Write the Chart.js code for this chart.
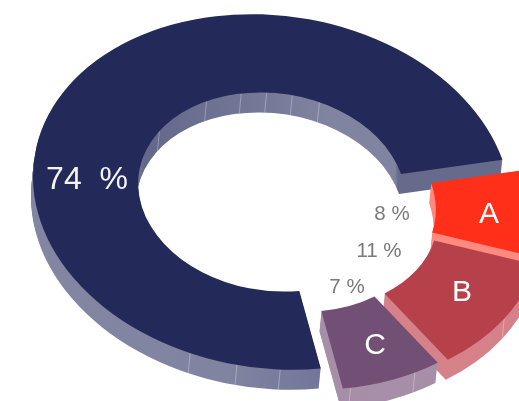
<!DOCTYPE html>
<html><head><meta charset="utf-8">
<style>html,body{margin:0;padding:0;background:#fff}canvas{display:block}</style>
<script src="https://cdn.jsdelivr.net/npm/chart.js@4"></script>
</head><body><canvas id="c" width="519" height="401"></canvas>
<script>
const categories=['','A','B','C'];
const values=[74,8,11,7];
const percentLabels=['74  %','8 %','11 %','7 %'];
const topColors=['#232a5a','#ff2f19','#b7414b','#724f75'];
const wallColors=['#7c809d','#ff8a80','#d6828a','#a78fa9'];
const explode=[[0,0],[30,9],[32,17],[22,20]];
const outerSeams=[[87.3,97.7,109.3],[],[32.4],[58.9,75.6]];
const innerSeams=[[212,240,256,267,278,290],[],[],[]];
const C0=[272,192], M=[239,-3,17.6,177], DEPTH=20, LEAN=-2;

function shadeNavyWall(ctx){
 ctx.save();ctx.setTransform(1,0,0,1,0,0);ctx.globalCompositeOperation='source-atop';
 const g=ctx.createLinearGradient(0,0,519,0);
 [[33,'#8286a3'],[130,'#8286a3'],[145,'#63678a'],[330,'#8084a0'],[395,'#8084a0'],[398,'#666b8b'],[500,'#666b8b']]
  .forEach(([x,c])=>g.addColorStop(x/519,c));
 ctx.fillStyle=g;ctx.fillRect(0,0,519,200);
 const h=ctx.createLinearGradient(0,0,519,0);
 [[33,'#8286a3'],[230,'#8084a0'],[320,'#72769a']].forEach(([x,c])=>h.addColorStop(x/519,c));
 ctx.fillStyle=h;ctx.fillRect(0,200,519,201);
 ctx.restore();
}
const solid3d={id:'solid3d',
 beforeDatasetsDraw(chart){
  const ctx=chart.ctx, arcs=chart.getDatasetMeta(0).data;
  arcs.forEach((arc,i)=>{
   const R=arc.outerRadius,k=1/R,[ex,ey]=explode[i];
   const pt=(deg,r)=>{const a=deg*Math.PI/180,u=r*Math.cos(a),v=r*Math.sin(a);
     return [C0[0]+ex+M[0]*u+M[1]*v, C0[1]+ey+M[2]*u+M[3]*v];};
   const place=(dx,dy)=>{ctx.setTransform(M[0]*k,M[2]*k,M[1]*k,M[3]*k,C0[0]+ex+dx,C0[1]+ey+dy);ctx.translate(-arc.x,-arc.y);};
   const saved=arc.options;
   ctx.save();
   arc.options=Object.assign({},saved,{backgroundColor:wallColors[i],borderWidth:0});
   for(let d=DEPTH;d>=1;d--){ctx.save();place(LEAN*d/DEPTH,d);arc.draw(ctx);ctx.restore();}
   arc.options=saved;
   ctx.restore();
   if(i===0)shadeNavyWall(ctx);
   ctx.save();ctx.setTransform(1,0,0,1,0,0);ctx.strokeStyle='rgba(255,255,255,.3)';ctx.lineWidth=1;
   const rin=arc.innerRadius/R;
   [[outerSeams[i],1],[innerSeams[i],rin]].forEach(([list,r])=>list.forEach(deg=>{
     const p=pt(deg,r);ctx.beginPath();ctx.moveTo(p[0],p[1]);ctx.lineTo(p[0]+LEAN,p[1]+DEPTH);ctx.stroke();}));
   ctx.restore();
   ctx.save();place(0,0);arc.draw(ctx);ctx.restore();
  });
  ctx.save();ctx.setTransform(1,0,0,1,0,0);ctx.textAlign='center';ctx.textBaseline='middle';
  ctx.font='32px "Liberation Sans"';ctx.fillStyle='#f4f4f8';ctx.fillText(percentLabels[0],87,180);
  ctx.font='30px "Liberation Sans"';ctx.fillStyle='#ffffff';
  [[489,215],[462,293],[375,346]].forEach((p,j)=>ctx.fillText(categories[j+1],p[0],p[1]));
  ctx.font='20.5px "Liberation Sans"';ctx.fillStyle='#7a7a7a';
  [[392,214],[379,251],[347,287]].forEach((p,j)=>ctx.fillText(percentLabels[j+1],p[0],p[1]));
  ctx.restore();
  return false;
 }};

new Chart(document.getElementById('c'),{type:'doughnut',
 data:{labels:categories,datasets:[{data:values,backgroundColor:topColors,borderWidth:0}]},
 options:{responsive:false,animation:false,cutout:'56%',rotation:167.5,
  layout:{padding:0},plugins:{legend:{display:false},tooltip:{enabled:false}}},
 plugins:[solid3d]});
</script></body></html>
